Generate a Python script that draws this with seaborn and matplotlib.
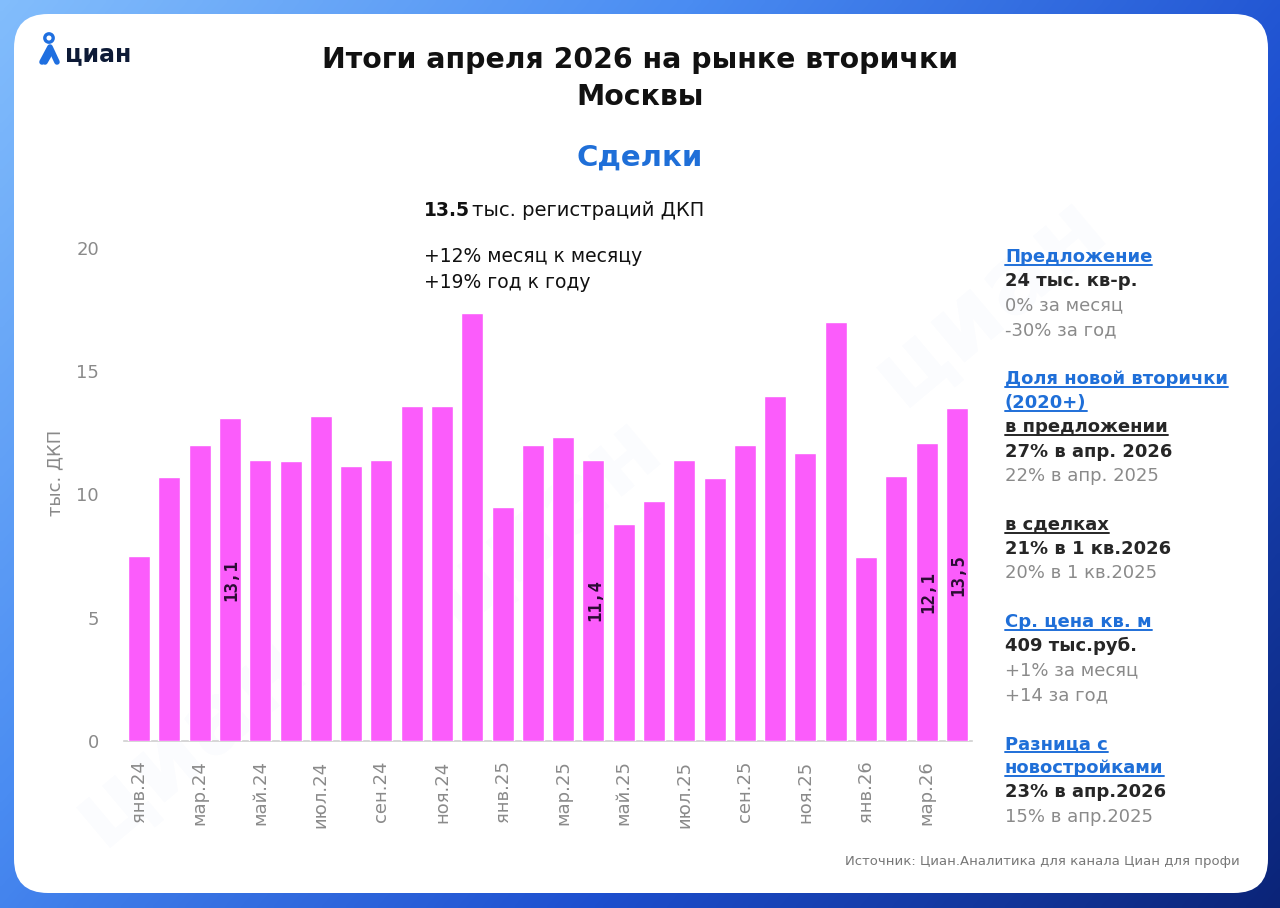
import numpy as np
import pandas as pd
import matplotlib
matplotlib.use('Agg')
import matplotlib.pyplot as plt
import seaborn as sns
from matplotlib.patches import FancyBboxPatch, Circle
from matplotlib.colors import LinearSegmentedColormap

# data, thousand deals per month
months = ['янв.24', 'фев.24', 'мар.24', 'апр.24', 'май.24', 'июн.24', 'июл.24', 'авг.24',
          'сен.24', 'окт.24', 'ноя.24', 'дек.24', 'янв.25', 'фев.25', 'мар.25', 'апр.25',
          'май.25', 'июн.25', 'июл.25', 'авг.25', 'сен.25', 'окт.25', 'ноя.25', 'дек.25',
          'янв.26', 'фев.26', 'мар.26', 'апр.26']
deals = [7.5, 10.7, 12.0, 13.1, 11.4, 11.35, 13.2, 11.15, 11.4, 13.6, 13.6, 17.35,
         9.5, 12.0, 12.35, 11.4, 8.8, 9.75, 11.4, 10.65, 12.0, 14.0, 11.7, 17.0,
         7.45, 10.75, 12.1, 13.5]
labelled_months = ['апр.24', 'апр.25', 'мар.26', 'апр.26']
labelled_text = ['13,1', '11,4', '12,1', '13,5']
y_ticks = [0, 5, 10, 15, 20]

# side panel: (text, kind) kind: head = blue underlined, sub = dark underlined,
# val = dark bold, note = gray
side_lines = [
    ('Предложение', 'head'), ('24 тыс. кв-р.', 'val'), ('0% за месяц', 'note'), ('-30% за год', 'note'),
    None,
    ('Доля новой вторички', 'head'), ('(2020+)', 'head'), ('в предложении', 'sub'),
    ('27% в апр. 2026', 'val'), ('22% в апр. 2025', 'note'),
    None,
    ('в сделках', 'sub'), ('21% в 1 кв.2026', 'val'), ('20% в 1 кв.2025', 'note'),
    None,
    ('Ср. цена кв. м', 'head'), ('409 тыс.руб.', 'val'), ('+1% за месяц', 'note'), ('+14 за год', 'note'),
    None,
    ('Разница с', 'head'), ('новостройками', 'head'), ('23% в апр.2026', 'val'), ('15% в апр.2025', 'note'),
]

df = pd.DataFrame({'month': months, 'deals': deals})

sns.set_theme(style='white')
plt.rcParams['font.family'] = ['DejaVu Sans']

W, H = 1280, 908
BAR = '#fb5cfb'
BLUE = '#1f6fd8'
DARK = '#262626'
GRAY = '#8a8a8a'

fig = plt.figure(figsize=(W / 100, H / 100), dpi=100)

# background: blue gradient frame and white rounded card, pixel coordinates
bg = fig.add_axes([0, 0, 1, 1])
bg.set_xlim(0, W)
bg.set_ylim(H, 0)
bg.axis('off')
yy, xx = np.mgrid[0:H:4, 0:W:4]
t = 0.62 * xx / W + 0.38 * yy / H
cmap = LinearSegmentedColormap.from_list('frame', ['#82bdfc', '#4a8cf2', '#1d4fcf', '#0b2478'])
bg.imshow(t, cmap=cmap, extent=[0, W, H, 0], aspect='auto', interpolation='bilinear', zorder=0)
bg.add_patch(FancyBboxPatch((14, 14), 1254, 879, boxstyle='round,pad=0,rounding_size=34',
                            facecolor='white', edgecolor='none', zorder=1))

# faint watermarks
for wx, wy in [(190, 740), (545, 520), (990, 300)]:
    bg.text(wx, wy, 'циан', fontsize=70, fontweight='bold', color='#3a7be8', alpha=0.025,
            rotation=40, ha='center', va='center', zorder=2)

# logo
bg.add_patch(Circle((49, 38), 4.2, facecolor='none', edgecolor='#1f6fe0', lw=2.4, zorder=3))
bg.plot([42, 50, 57], [62, 47, 62], color='#1f6fe0', lw=4, solid_capstyle='round', zorder=3)
bg.plot([49, 45], [55, 62], color='#1f6fe0', lw=4, solid_capstyle='round', zorder=3)
bg.text(65, 54, 'циан', fontsize=17, fontweight='bold', color='#0d1a36', ha='left', va='center', zorder=3)

# titles
bg.text(640, 60, 'Итоги апреля 2026 на рынке вторички', fontsize=20.4, fontweight='bold',
        color='#111111', ha='center', va='center', zorder=3)
bg.text(640, 97, 'Москвы', fontsize=20.4, fontweight='bold', color='#111111', ha='center', va='center', zorder=3)
bg.text(640, 158, 'Сделки', fontsize=21, fontweight='bold', color=BLUE, ha='center', va='center', zorder=3)

t1 = bg.text(424, 210, '13.5', fontsize=13.5, fontweight='bold', color='#111111', ha='left', va='center', zorder=3)
fig.canvas.draw()
bb = t1.get_window_extent(fig.canvas.get_renderer())
bg.text(bb.x1 + 2, 210, 'тыс. регистраций ДКП', fontsize=14, color='#111111', ha='left', va='center', zorder=3)
bg.text(424, 257, '+12% месяц к месяцу', fontsize=13.5, color='#111111', ha='left', va='center', zorder=3)
bg.text(424, 282, '+19% год к году', fontsize=13.5, color='#111111', ha='left', va='center', zorder=3)

# side panel
underlined = []
y = 257
for item in side_lines:
    if item is None:
        y += 24.5
        continue
    s, kind = item
    color = {'head': BLUE, 'sub': DARK, 'val': DARK, 'note': GRAY}[kind]
    weight = 'bold' if kind in ('head', 'sub', 'val') else 'normal'
    txt = bg.text(1005, y, s, fontsize=13, fontweight=weight, color=color, ha='left', va='center', zorder=3)
    if kind in ('head', 'sub'):
        underlined.append((txt, color))
    y += 24.3

bg.text(1240, 861, 'Источник: Циан.Аналитика для канала Циан для профи', fontsize=9.5,
        color='#777777', ha='right', va='center', zorder=3)
bg.text(55, 473, 'тыс. ДКП', fontsize=13, color=GRAY, rotation=90, ha='center', va='center', zorder=3)

# bar chart
ax = fig.add_axes([124 / W, 1 - 741 / H, (972 - 124) / W, (741 - 248) / H])
ax.set_facecolor('none')
sns.barplot(data=df, x='month', y='deals', color=BAR, saturation=1, width=0.73, ax=ax, zorder=3)
ax.set_xlim(-0.5, len(months) - 0.5)
ax.set_ylim(0, 20)
ax.set_yticks(y_ticks)
ax.set_yticklabels([str(v) for v in y_ticks])
ax.set_xticks(range(0, len(months), 2))
ax.set_xticklabels(months[::2], rotation=90)
ax.set_xticks(np.arange(-0.5, len(months), 2), minor=True)
ax.tick_params(axis='x', which='major', length=0, pad=14, labelsize=13, labelcolor=GRAY)
ax.tick_params(axis='x', which='minor', length=6, width=1, color='#d0d0d0', direction='out')
ax.tick_params(axis='y', length=0, pad=18, labelsize=13, labelcolor=GRAY)
ax.set_xlabel('')
ax.set_ylabel('')
for side in ['top', 'right', 'left']:
    ax.spines[side].set_visible(False)
ax.spines['bottom'].set_color('#d0d0d0')
ax.spines['bottom'].set_linewidth(1.2)

for m, lab in zip(labelled_months, labelled_text):
    i = months.index(m)
    ax.text(i + 0.05, deals[i] / 2, lab, rotation=90, ha='center', va='center', fontsize=12.5,
            fontweight='bold', family='DejaVu Sans Mono', color='#2a0c33', zorder=5)

# underlines for the side panel headings
fig.canvas.draw()
r = fig.canvas.get_renderer()
for txt, c in underlined:
    e = txt.get_window_extent(r)
    yl = H - e.y0 - 1
    bg.plot([e.x0, e.x1], [yl, yl], color=c, lw=1.4, zorder=3)

fig.savefig('out.png', dpi=100)
